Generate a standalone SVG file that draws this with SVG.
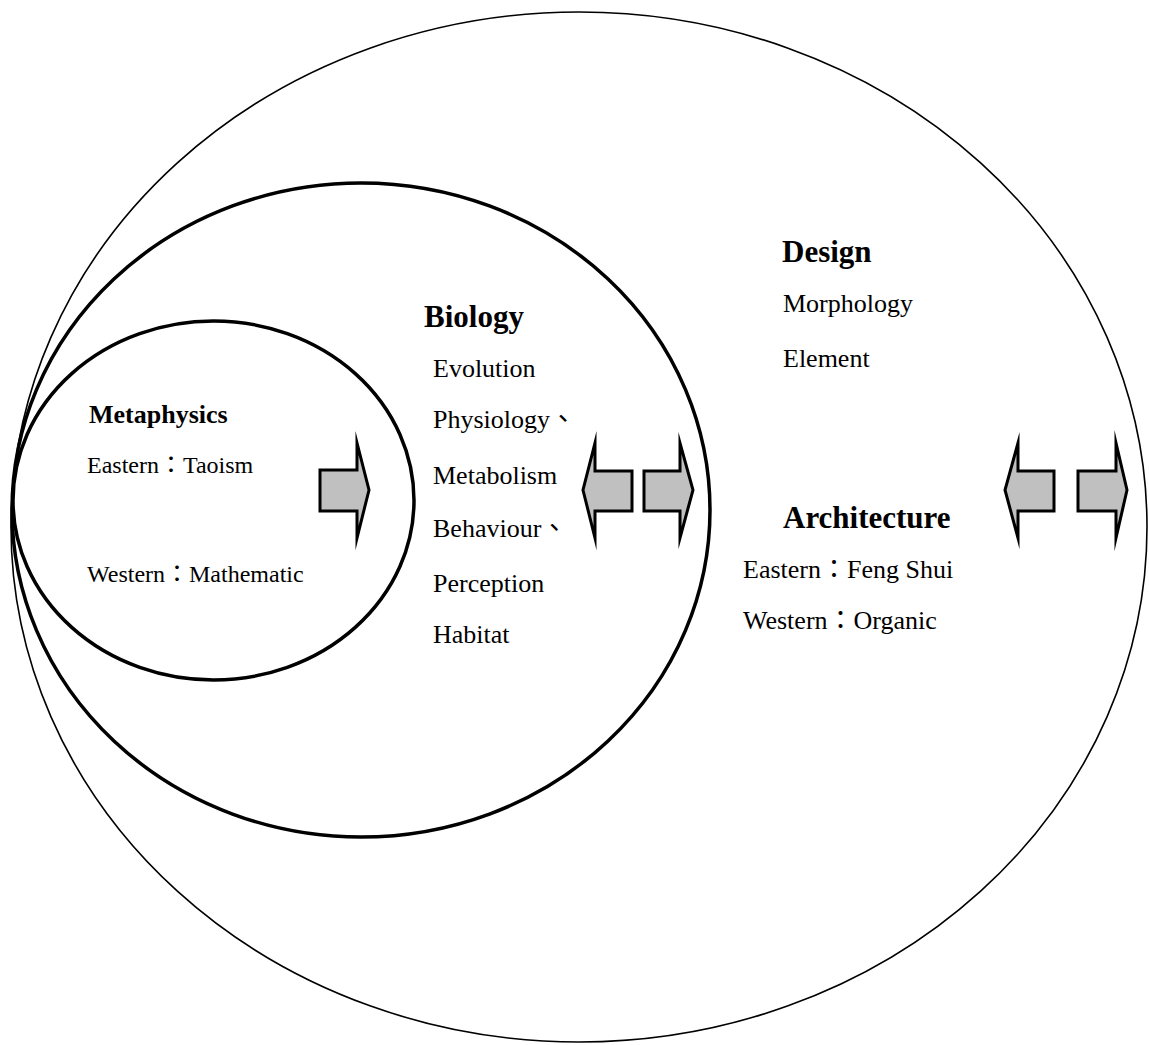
<svg xmlns="http://www.w3.org/2000/svg" width="1149" height="1045" viewBox="0 0 1149 1045">
<style>
.thin{fill:none;stroke:#000;stroke-width:1.6}
.thick{fill:none;stroke:#000;stroke-width:3.5}
.arr{fill:#c0c0c0;stroke:#000;stroke-width:3;stroke-linejoin:miter;stroke-miterlimit:10}
text{font-family:"Liberation Serif","Noto Sans CJK TC",serif;fill:#000}
.h{font-weight:bold;font-size:31px}
.hm{font-weight:bold;font-size:26px}
.t{font-size:26px}
.tm{font-size:24px}
</style>
<rect width="1149" height="1045" fill="#fff"/>
<g id="design">
<ellipse class="thin" cx="579" cy="527" rx="568" ry="515"/>
<text class="h" x="782" y="262">Design</text>
<text class="t" x="783" y="312">Morphology</text>
<text class="t" x="783" y="367">Element</text>
</g>
<g id="architecture">
<text class="h" x="783" y="528">Architecture</text>
<text class="t" x="743" y="578">Eastern：Feng Shui</text>
<text class="t" x="743" y="629">Western：Organic</text>
</g>
<g id="biology">
<ellipse class="thick" cx="361" cy="510" rx="349" ry="327"/>
<text class="h" x="424" y="327">Biology</text>
<text class="t" x="433" y="377">Evolution</text>
<text class="t" x="433" y="428">Physiology、</text>
<text class="t" x="433" y="484">Metabolism</text>
<text class="t" x="433" y="537">Behaviour、</text>
<text class="t" x="433" y="592">Perception</text>
<text class="t" x="433" y="643">Habitat</text>
</g>
<g id="metaphysics">
<ellipse class="thick" cx="213.5" cy="500.5" rx="200.5" ry="179.5"/>
<text class="hm" x="89" y="423">Metaphysics</text>
<text class="tm" x="87" y="473">Eastern：Taoism</text>
<text class="tm" x="87" y="582">Western：Mathematic</text>
</g>
<g id="connectors">
<polygon class="arr" points="320,470 357,470 357,443 369,490 357,538 357,511 320,511"/>
<polygon class="arr" points="632,471 595,471 595,443 583,490 595,538 595,511 632,511"/>
<polygon class="arr" points="644,471 680,471 680,443 693,490 680,538 680,511 644,511"/>
<polygon class="arr" points="1054,471 1018,471 1018,443 1005,490 1018,538 1018,511 1054,511"/>
<polygon class="arr" points="1078,471 1116,471 1116,443 1127,490 1116,538 1116,511 1078,511"/>
</g>
</svg>
